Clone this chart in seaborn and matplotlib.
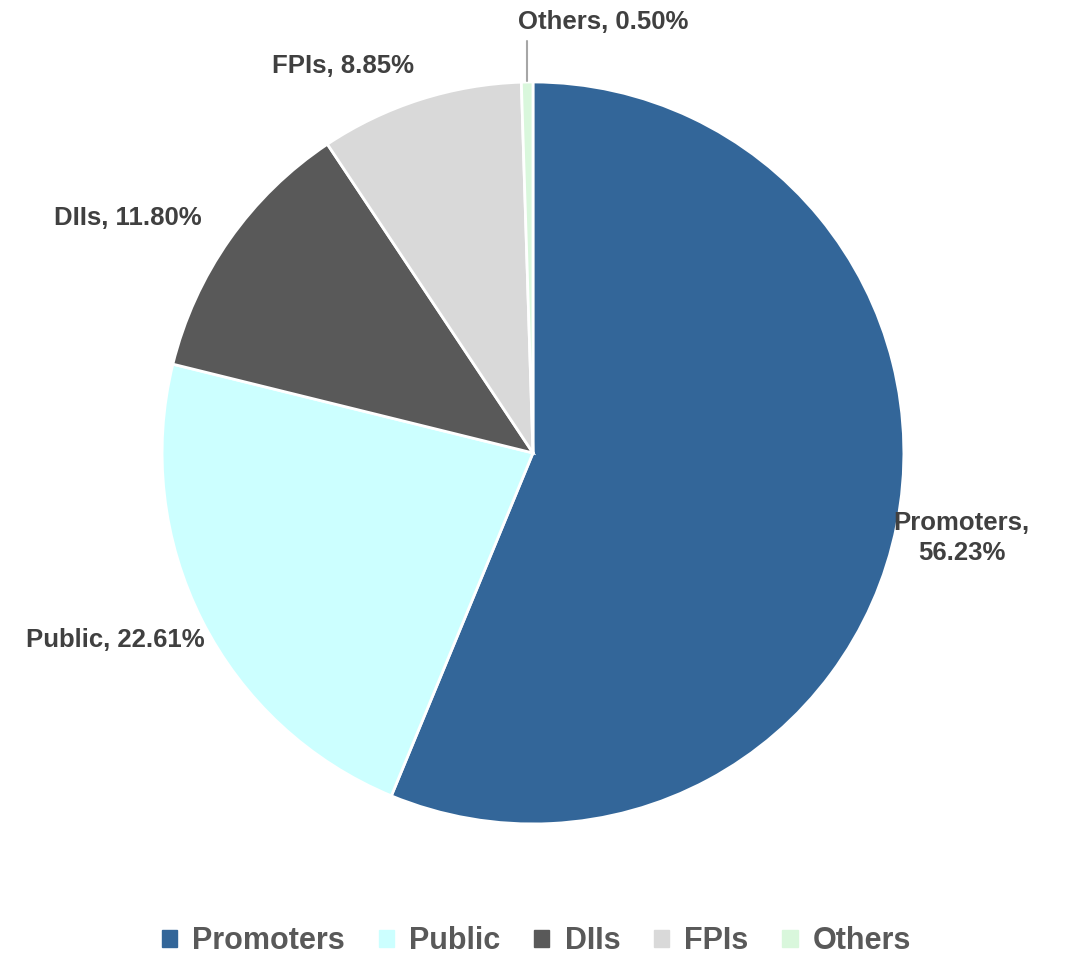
import matplotlib.pyplot as plt
import seaborn as sns

# Shareholding pattern
categories = ['Promoters', 'Public', 'DIIs', 'FPIs', 'Others']
shares = [56.23, 22.61, 11.80, 8.85, 0.50]
colors = ['#336699', '#CCFFFF', '#595959', '#D9D9D9', '#D9F7DC']

sns.set_theme(style='white')
plt.rcParams['font.family'] = ['Liberation Sans', 'DejaVu Sans']

fig = plt.figure(figsize=(10.73, 9.59), dpi=100)
ax = fig.add_axes([0, 0, 1, 1])

wedges, _ = ax.pie(shares, colors=sns.color_palette(colors), startangle=90,
                   counterclock=False, radius=1.0,
                   wedgeprops=dict(edgecolor='white', linewidth=2))

ax.set_xlim(-1.437, 1.456)
ax.set_ylim(-1.364, 1.221)
ax.set_aspect('auto')
ax.axis('off')

# label positions (data coords, pie radius = 1)
label_pos = [(1.156, -0.229), (-1.127, -0.504), (-1.092, 0.633),
             (-0.512, 1.043), (0.189, 1.162)]
for cat, val, (x, y) in zip(categories, shares, label_pos):
    txt = f'{cat},\n{val:.2f}%' if cat == 'Promoters' else f'{cat}, {val:.2f}%'
    ax.text(x, y, txt, ha='center', va='center', fontsize=18.5,
            fontweight='bold', color='#404040', linespacing=1.35)

# leader line for the tiny slice
ax.plot([-0.015, -0.015], [1.002, 1.11], color='#A6A6A6', lw=1.5)

handles = [plt.Rectangle((0, 0), 1, 1, color=c) for c in colors]
leg = fig.legend(handles, categories, loc='lower center', ncol=5,
                 bbox_to_anchor=(0.5, -0.026), frameon=False,
                 prop=dict(size=22, weight='bold'), handlelength=0.5,
                 handleheight=0.5, handletextpad=0.5, columnspacing=1.1)
for t in leg.get_texts():
    t.set_color('#595959')

fig.savefig('out.png', dpi=100)
